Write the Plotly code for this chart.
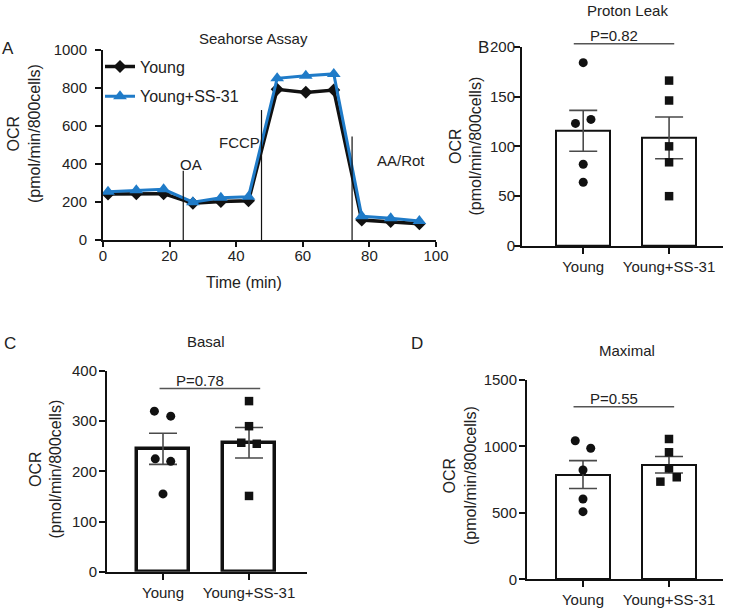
import plotly.graph_objects as go

W, H = 731, 610
FONT = "Arial, Liberation Sans, sans-serif"

# ---------------- Panel A: Seahorse assay time course ----------------
time_min = [1.5, 10, 18.2, 27, 35.4, 43.7, 52.3, 60.9, 69.3, 77.7, 86.4, 95]
ocr_young = [242, 244, 244, 193, 202, 206, 793, 777, 789, 105, 97, 85]
ocr_ss31 = [254, 262, 267, 199, 222, 228, 851, 864, 874, 125, 115, 100]
injection_names = ["OA", "FCCP", "AA/Rot"]
injection_times = [24.1, 47.6, 74.8]
injection_heights = [365, 684, 545]

# ---------------- Panels B-D: bar + dot plots ----------------
groups = ["Young", "Young+SS-31"]

proton_young = [184, 123, 127, 82, 64]
proton_ss31 = [166, 146, 100, 84, 50]
proton_mean = [115.6, 108.5]
proton_sem = [20.5, 21.0]
proton_p = "P=0.82"

basal_young = [320, 310, 225, 220, 155]
basal_ss31 = [340, 290, 257, 255, 151]
basal_mean = [245, 257]
basal_sem = [31, 30.5]
basal_p = "P=0.78"

maximal_young = [1043, 986, 823, 604, 509]
maximal_ss31 = [1056, 956, 835, 735, 768]
maximal_mean = [788, 862]
maximal_sem = [105, 62]
maximal_p = "P=0.55"

# horizontal jitter of the dots (layout only)
jit_b = ([0, -0.09, 0.09, 0, 0], [0, 0, 0, 0, 0])
jit_c = ([-0.1, 0.09, -0.09, 0.09, 0], [0, 0, -0.09, 0.09, 0])
jit_d = ([-0.09, 0.09, 0, 0, 0], [0, 0, 0, -0.1, 0.09])


def xd(p0, p1):
    return [p0 / W, p1 / W]


def yd(top, bottom):
    return [1 - bottom / H, 1 - top / H]


BLUE = "#1f7bc8"
fig = go.Figure()

# Panel A traces
fig.add_trace(go.Scatter(
    x=time_min, y=ocr_young, mode="lines+markers", name="Young",
    line=dict(color="#111111", width=3.5),
    marker=dict(symbol="diamond", size=10, color="#111111"),
    xaxis="x", yaxis="y", legendgroup="g1", cliponaxis=False))
fig.add_trace(go.Scatter(
    x=time_min, y=ocr_ss31, mode="lines+markers", name="Young+SS-31",
    line=dict(color=BLUE, width=3),
    marker=dict(symbol="triangle-up", size=12, color=BLUE),
    xaxis="x", yaxis="y", legendgroup="g2", cliponaxis=False))
for t, h in zip(injection_times, injection_heights):
    fig.add_trace(go.Scatter(
        x=[t, t], y=[0, h], mode="lines", line=dict(color="#111111", width=1.2),
        showlegend=False, xaxis="x", yaxis="y", hoverinfo="skip"))

# Bar panels
panels = [
    ("2", proton_young, proton_ss31, proton_mean, proton_sem, jit_b, 2.0, 0.63),
    ("3", basal_young, basal_ss31, basal_mean, basal_sem, jit_c, 3.5, 0.61),
    ("4", maximal_young, maximal_ss31, maximal_mean, maximal_sem, jit_d, 2.0, 0.63),
]
for ax, yv, sv, mean, sem, jit, lw, bw in panels:
    fig.add_trace(go.Bar(
        x=[0, 1], y=mean, width=bw,
        marker=dict(color="white", line=dict(color="#111111", width=lw)),
        error_y=dict(type="data", array=sem, color="#4a4a4a", thickness=1.6, width=14),
        showlegend=False, xaxis="x" + ax, yaxis="y" + ax))
    fig.add_trace(go.Scatter(
        x=[0 + j for j in jit[0]], y=yv, mode="markers",
        marker=dict(symbol="circle", size=9, color="#111111"),
        showlegend=False, xaxis="x" + ax, yaxis="y" + ax, cliponaxis=False))
    fig.add_trace(go.Scatter(
        x=[1 + j for j in jit[1]], y=sv, mode="markers",
        marker=dict(symbol="square", size=8.5, color="#111111"),
        showlegend=False, xaxis="x" + ax, yaxis="y" + ax, cliponaxis=False))

axis_common = dict(showline=True, linecolor="#111111", ticks="outside",
                   tickcolor="#111111", showgrid=False, zeroline=False,
                   automargin=False,
                   tickfont=dict(family=FONT, size=15, color="#222222"),
                   fixedrange=True)

ranges_b = [-0.713, 1.628]
ranges_c = [-0.651, 1.674]
ranges_d = [-0.651, 1.628]

layout = dict(
    width=W, height=H, margin=dict(l=0, r=0, t=0, b=0, pad=0, autoexpand=False),
    paper_bgcolor="white", plot_bgcolor="white",
    font=dict(family=FONT, color="#222222"),
    bargap=0,
    xaxis=dict(domain=xd(103, 436), range=[0, 100], dtick=20, linewidth=2,
               ticklen=5, tickwidth=1.5, anchor="y", ticklabelstandoff=-4, **axis_common),
    yaxis=dict(domain=yd(50, 240), range=[0, 1000], dtick=200, linewidth=2,
               ticklen=6, tickwidth=1.5, anchor="x", ticklabelstandoff=5, **axis_common),
    xaxis2=dict(domain=xd(522, 723), range=ranges_b, tickvals=[0, 1], ticktext=groups,
                linewidth=2, ticklen=6, tickwidth=2, anchor="y2", **axis_common),
    yaxis2=dict(domain=yd(46.7, 246), range=[0, 200], dtick=50, linewidth=2,
                ticklen=6, tickwidth=2, anchor="x2", ticklabelstandoff=-4, **axis_common),
    xaxis3=dict(domain=xd(107, 307), range=ranges_c, tickvals=[0, 1], ticktext=groups,
                linewidth=2, ticklen=6, tickwidth=2, anchor="y3", **axis_common),
    yaxis3=dict(domain=yd(371, 571.7), range=[0, 400], dtick=100, linewidth=2,
                ticklen=6, tickwidth=2, anchor="x3", ticklabelstandoff=-1, **axis_common),
    xaxis4=dict(domain=xd(527, 723), range=ranges_d, tickvals=[0, 1], ticktext=groups,
                linewidth=2, ticklen=6, tickwidth=2, anchor="y4", **axis_common),
    yaxis4=dict(domain=yd(380, 579.3), range=[0, 1500], dtick=500, linewidth=2,
                ticklen=6, tickwidth=2, anchor="x4", ticklabelstandoff=-1, **axis_common),
    legend=dict(x=100 / W, y=1 - 49.5 / H, xanchor="left", yanchor="top",
                bgcolor="rgba(0,0,0,0)", traceorder="grouped", tracegroupgap=6,
                font=dict(family=FONT, size=16, color="#222222")),
    showlegend=True,
)
fig.update_layout(**layout)

ann = []


def paper_text(text, px, py, size=16, xanchor="center", angle=0):
    ann.append(dict(text=text, x=px / W, y=1 - py / H, xref="paper", yref="paper",
                    showarrow=False, xanchor=xanchor, yanchor="middle", textangle=angle,
                    font=dict(family=FONT, size=size, color="#222222")))


# panel letters and titles
paper_text("A", 8, 48, 17)
paper_text("B", 483, 47, 17)
paper_text("C", 10, 343, 17)
paper_text("D", 417, 343, 17)
paper_text("Seahorse Assay", 253, 39, 15)
paper_text("Proton Leak", 627, 11, 15)
paper_text("Basal", 206, 341, 15)
paper_text("Maximal", 627, 351, 15)
paper_text("Time (min)", 244, 282, 16)
# y axis titles
ytitle = "OCR<br>(pmol/min/800cells)"
paper_text(ytitle, 24, 134, 16, angle=-90)
paper_text(ytitle, 465.5, 146, 16, angle=-90)
paper_text(ytitle, 45.5, 469, 16, angle=-90)
paper_text(ytitle, 460, 476, 16, angle=-90)

# injection labels in panel A (data coords)
inj_label_pos = [(26.4, 395, "center"), (47.6, 511, "right"), (89.5, 416, "center")]
for name, (lx, ly, anc) in zip(injection_names, inj_label_pos):
    ann.append(dict(text=name, x=lx, y=ly, xref="x", yref="y", showarrow=False,
                    xanchor=anc, yanchor="middle",
                    font=dict(family=FONT, size=15, color="#222222")))

# P-value brackets (line from group 0 to group 1 above bars)
shapes = []
pinfo = [
    ("2", ranges_b, 200, proton_p, -0.11, 1.06, 203),
    ("3", ranges_c, 400, basal_p, -0.04, 1.13, 365),
    ("4", ranges_d, 1500, maximal_p, -0.11, 1.06, 1299),
]
for ax, rng, ymax, ptxt, x0, x1, yv in pinfo:
    fx0 = (x0 - rng[0]) / (rng[1] - rng[0])
    fx1 = (x1 - rng[0]) / (rng[1] - rng[0])
    fy = yv / ymax
    shapes.append(dict(type="line", xref="x%s domain" % ax, yref="y%s domain" % ax,
                       x0=fx0, x1=fx1, y0=fy, y1=fy,
                       line=dict(color="#555555", width=1.5)))
    ann.append(dict(text=ptxt, x=fx0 + 0.44 * (fx1 - fx0) - 0.02, y=fy,
                    xref="x%s domain" % ax, yref="y%s domain" % ax,
                    showarrow=False, xanchor="center", yanchor="bottom", yshift=-2,
                    font=dict(family=FONT, size=15, color="#222222")))

fig.update_layout(annotations=ann, shapes=shapes)

page_fix = ("}); document.documentElement.style.margin='0';"
            "document.body.style.margin='0';"
            "document.documentElement.style.overflow='hidden';"
            "Promise.resolve().then(function(){")

fig.write_html(
    "out.html",
    config={"displayModeBar": False, "responsive": False},
    post_script=page_fix,
)
